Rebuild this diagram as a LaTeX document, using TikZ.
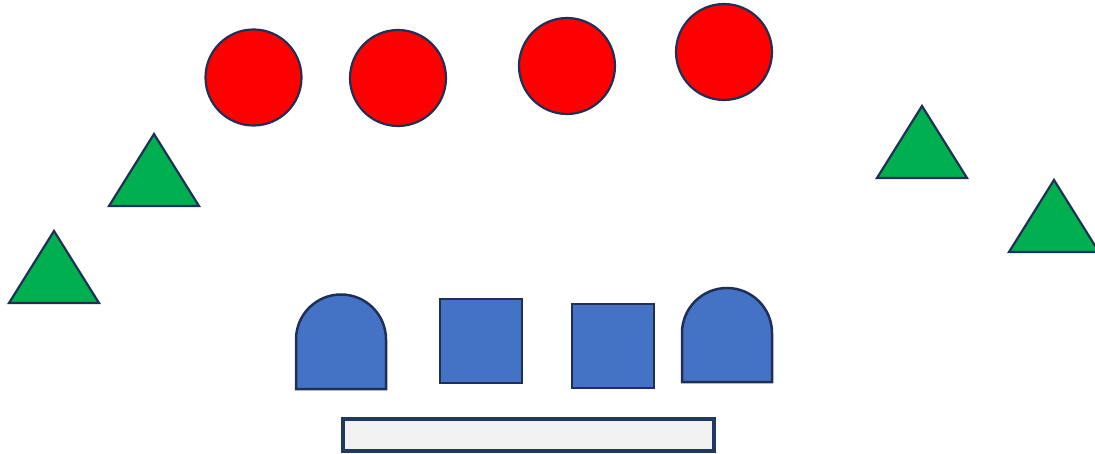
\documentclass[tikz,border=0pt]{standalone}
\definecolor{edgec}{HTML}{1F3056}
\definecolor{barc}{HTML}{203864}
\definecolor{redf}{HTML}{FF0000}
\definecolor{greenf}{HTML}{00B050}
\definecolor{bluef}{HTML}{4472C4}
\definecolor{barf}{HTML}{F2F2F2}
\tikzset{
  ball/.style={draw=edgec, fill=redf, line width=2.2pt},
  tri/.style={draw=edgec, fill=greenf, line width=2.2pt, line join=miter},
  blk/.style={draw=edgec, fill=bluef, line width=2.5pt},
  barstyle/.style={draw=barc, fill=barf, line width=4pt}
}
\begin{document}
\begin{tikzpicture}[x=1pt,y=-1pt]
\useasboundingbox (0,0) rectangle (1095,454);
% circles
\draw[ball] (253.5,77.5) circle (48);
\draw[ball] (398,78) circle (48);
\draw[ball] (567,66) circle (48);
\draw[ball] (724,52) circle (48);
% triangles
\draw[tri] (54,231) -- (99,303) -- (9,303) -- cycle;
\draw[tri] (154,134) -- (199,206) -- (109,206) -- cycle;
\draw[tri] (922,106) -- (967,178) -- (877,178) -- cycle;
\draw[tri] (1054,180) -- (1099,252) -- (1009,252) -- cycle;
% arches and squares
\draw[blk] (296,389) -- (296,339.5) arc[start angle=180, end angle=360, radius=45] -- (386,389) -- cycle;
\draw[blk] (440,299) rectangle (522,383);
\draw[blk] (572,304) rectangle (654,388);
\draw[blk] (682,382) -- (682,333) arc[start angle=180, end angle=360, radius=45] -- (772,382) -- cycle;
% bar
\draw[barstyle] (343,418.5) rectangle (714,451);
\end{tikzpicture}
\end{document}
